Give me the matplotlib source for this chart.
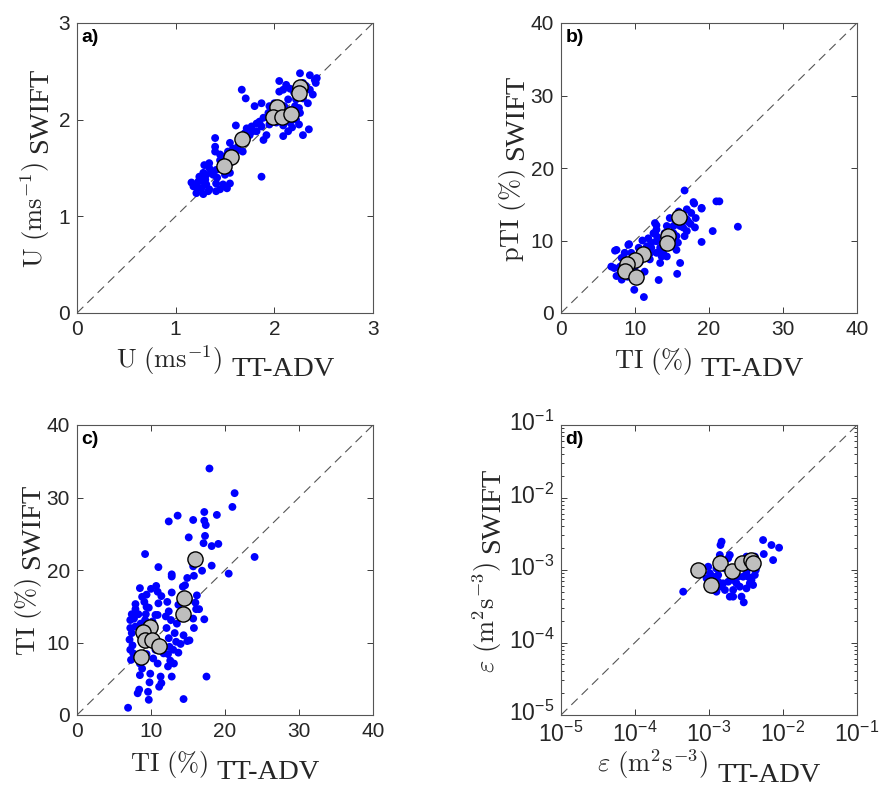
import numpy as np
import matplotlib
matplotlib.use("Agg")
import matplotlib.pyplot as plt
import matplotlib.transforms as mtransforms
from matplotlib.ticker import FixedLocator, FixedFormatter, LogLocator, NullFormatter

plt.rcParams['font.family'] = ['Liberation Sans', 'DejaVu Sans']
plt.rcParams['mathtext.fontset'] = 'cm'

# ---------------- data ----------------
# panel a : U (m/s)
a_x = [2.26, 2.36, 2.41, 2.42, 2.05, 2.12, 2.09, 2.16, 2.36, 2.39, 2.29, 2.34, 2.22, 2.14, 2.05, 2.00,
       1.95, 2.10, 1.67, 1.71, 1.80, 1.87, 1.94, 1.89, 1.82, 1.77, 1.72, 1.61, 1.82, 1.87, 1.95, 2.02,
       2.09, 2.16, 2.22, 2.26, 2.14, 2.09, 2.29, 2.35, 1.92, 1.89, 1.75, 1.70, 1.63, 1.55, 1.53, 1.40,
       1.40, 1.40, 1.45, 1.61, 1.68, 1.55, 1.34, 1.29, 1.34, 1.41, 1.28, 1.24, 1.31, 1.38, 1.50, 1.55,
       1.87, 1.23, 1.16, 1.28, 1.31, 1.41, 1.48, 1.55, 1.18, 1.26, 1.34, 1.45, 1.52, 1.21, 1.28, 1.41,
       1.33, 1.46, 1.95, 1.99, 2.16, 2.21, 2.29, 2.43, 2.20, 2.32, 2.25, 2.05, 1.98, 1.85, 1.78, 1.65,
       1.58, 1.50, 1.45, 1.36, 1.30, 1.22, 1.42, 1.60, 1.72, 2.12, 2.18, 2.25]
a_y = [2.48, 2.46, 2.41, 2.38, 2.40, 2.36, 2.31, 2.32, 2.31, 2.26, 2.22, 2.17, 2.21, 2.21, 2.29, 2.17,
       2.14, 2.14, 2.31, 2.22, 2.14, 2.17, 2.07, 2.02, 1.96, 1.93, 1.91, 1.94, 1.88, 1.93, 1.95, 1.97,
       1.94, 1.97, 2.00, 2.07, 1.88, 1.83, 1.84, 1.90, 1.84, 1.79, 1.84, 1.86, 1.72, 1.76, 1.67, 1.81,
       1.72, 1.67, 1.64, 1.66, 1.67, 1.55, 1.55, 1.53, 1.50, 1.48, 1.45, 1.41, 1.43, 1.43, 1.43, 1.45,
       1.41, 1.36, 1.35, 1.36, 1.33, 1.34, 1.33, 1.34, 1.31, 1.29, 1.28, 1.28, 1.29, 1.24, 1.23, 1.26,
       1.26, 1.52, 2.03, 2.10, 2.10, 2.14, 2.38, 2.43, 2.28, 2.35, 2.12, 2.05, 1.98, 1.98, 1.88, 1.78,
       1.70, 1.62, 1.58, 1.45, 1.38, 1.30, 1.40, 1.60, 1.80, 2.02, 1.92, 1.95]
a_mx = [2.26, 2.25, 2.03, 1.99, 2.08, 2.17, 1.67, 1.56, 1.49]
a_my = [2.34, 2.28, 2.13, 2.03, 2.03, 2.06, 1.80, 1.61, 1.52]

# panel b : TI (%) vs pTI (%)
b_x = [16.7, 17.9, 19.0, 21.0, 21.4, 23.9, 20.5, 19.0, 17.0, 17.6, 18.2, 17.2, 18.1, 17.0, 16.7, 16.1,
       15.2, 14.7, 14.3, 15.6, 15.8, 15.6, 16.1, 15.7, 13.2, 11.2, 9.9, 7.5, 9.1, 6.8, 7.5, 8.2,
       12.7, 11.8, 12.5, 12.9, 13.4, 13.8, 14.3, 13.4, 12.9, 12.2, 11.6, 11.6, 12.0, 10.7, 10.7, 10.0,
       9.5, 8.6, 8.2, 8.0, 9.5, 11.3, 15.2, 14.0, 14.3, 15.4, 16.2, 17.0, 12.9, 12.2, 13.6, 15.2,
       8.9, 8.6, 7.3, 9.2, 12.9, 12.7, 18.0, 19.0, 10.5, 11.0, 12.0, 9.0, 10.5, 8.0, 7.2, 13.0,
       14.8, 16.5, 17.5, 15.9]
b_y = [16.9, 15.3, 14.5, 15.4, 15.4, 11.9, 11.3, 9.8, 14.3, 13.8, 13.1, 12.6, 11.8, 11.3, 10.6, 12.0,
       12.0, 13.1, 12.0, 10.6, 9.7, 8.7, 6.9, 5.4, 4.55, 2.2, 3.2, 8.7, 9.4, 6.4, 5.1, 4.6,
       12.4, 10.3, 11.0, 9.9, 9.0, 8.3, 7.8, 6.9, 8.3, 9.0, 9.2, 7.8, 7.4, 8.7, 7.1, 6.4,
       8.3, 8.3, 7.6, 6.4, 5.5, 5.7, 11.0, 11.0, 10.1, 12.9, 13.3, 12.9, 11.5, 9.7, 7.8, 9.2,
       6.4, 7.4, 8.6, 9.5, 12.1, 11.0, 15.1, 14.4, 9.0, 10.0, 8.2, 5.0, 5.2, 5.5, 6.2, 10.5,
       9.5, 11.8, 12.3, 14.0]
b_mx = [16.0, 14.5, 14.3, 11.1, 10.0, 8.9, 8.7, 10.2]
b_my = [13.3, 10.6, 9.6, 8.1, 7.3, 6.8, 5.8, 5.0]

# panel c : TI (%) vs TI (%)
c_x = [17.9, 21.3, 21.0, 12.4, 13.6, 15.7, 17.2, 17.2, 17.4, 18.9, 15.1, 17.3, 17.1, 18.2, 19.1, 9.2,
       24.0, 11.0, 12.8, 12.8, 15.7, 15.8, 16.9, 18.2, 20.5, 14.9, 14.3, 14.6, 8.5, 10.0, 10.7, 10.9,
       11.4, 12.8, 12.2, 9.4, 9.1, 7.9, 7.9, 7.4, 8.3, 9.3, 9.7, 10.9, 12.4, 12.7, 13.7, 15.1,
       16.2, 16.0, 16.1, 16.5, 17.2, 15.7, 15.8, 12.1, 13.2, 14.4, 15.2, 14.9, 14.0, 13.4, 12.5, 13.0,
       13.7, 12.3, 12.6, 13.1, 12.3, 12.8, 11.3, 11.1, 11.4, 9.8, 9.6, 8.4, 8.2, 9.7, 14.4, 6.9,
       17.5, 7.2, 7.2, 7.4, 7.1, 7.5, 7.2, 7.6, 7.3, 8.5, 8.8, 8.5, 9.9, 9.4, 10.3, 10.9,
       10.6, 11.7, 12.4, 9.2, 10.2, 10.6, 8.6, 7.9, 7.7, 8.8, 9.4, 11.0, 12.0, 13.5]
c_y = [34.0, 30.6, 28.7, 26.7, 27.5, 26.9, 28.0, 26.8, 26.2, 27.6, 24.5, 24.7, 23.7, 23.3, 23.6, 22.2,
       21.8, 20.4, 19.4, 19.1, 20.5, 19.2, 19.9, 20.6, 19.5, 18.9, 17.7, 17.9, 17.5, 17.4, 17.8, 17.0,
       16.4, 16.9, 15.6, 16.6, 15.6, 15.3, 14.6, 13.9, 13.9, 13.9, 14.8, 13.8, 14.3, 13.1, 15.2, 16.0,
       16.5, 15.5, 14.6, 14.6, 13.2, 13.3, 12.0, 12.0, 11.3, 11.0, 10.3, 10.2, 9.8, 10.1, 9.4, 9.0,
       8.6, 8.4, 7.5, 7.1, 6.7, 5.3, 5.3, 3.9, 4.4, 4.5, 3.2, 3.5, 3.0, 2.1, 2.2, 1.0,
       5.3, 13.1, 12.0, 11.3, 10.4, 9.6, 9.0, 8.5, 7.6, 7.1, 6.4, 5.5, 5.7, 8.4, 7.8, 7.1,
       9.0, 8.5, 10.6, 13.1, 12.9, 13.8, 12.6, 12.2, 13.3, 16.3, 14.9, 15.4, 13.6, 12.6]
c_mx = [16.0, 14.5, 14.3, 9.9, 8.9, 9.2, 10.2, 11.1, 8.7]
c_my = [21.5, 16.1, 14.0, 12.2, 11.5, 10.3, 10.3, 9.5, 7.95]

# panel d : epsilon (m^2 s^-3)
d_x = [4.48e-4, 1.48e-3, 1.43e-3, 5.38e-3, 6.98e-3, 8.85e-3, 5.50e-3, 7.35e-3, 9.75e-4, 1.33e-3,
       1.33e-3, 1.14e-3, 1.26e-3, 1.40e-3, 1.64e-3, 1.91e-3, 2.12e-3, 2.35e-3, 2.61e-3, 2.75e-3,
       2.95e-3, 3.21e-3, 3.56e-3, 3.37e-3, 4.16e-3, 4.29e-3, 3.21e-3, 2.89e-3, 2.48e-3, 2.12e-3,
       1.82e-3, 1.55e-3, 1.91e-3, 1.82e-3, 1.40e-3, 3.21e-3, 4.16e-3, 2.23e-3, 3.75e-3, 3.94e-3,
       1.26e-3, 1.64e-3, 1.14e-3, 9.27e-4, 1.03e-3, 2.12e-3]
d_y = [5.02e-4, 2.46e-3, 2.21e-3, 2.59e-3, 2.21e-3, 2.03e-3, 1.66e-3, 1.37e-3, 1.11e-3, 8.53e-4,
       6.90e-4, 5.30e-4, 5.02e-4, 5.89e-4, 5.30e-4, 4.29e-4, 5.30e-4, 6.55e-4, 5.89e-4, 4.29e-4,
       3.58e-4, 5.58e-4, 6.55e-4, 8.09e-4, 8.53e-4, 1.00e-3, 9.48e-4, 8.09e-4, 8.09e-4, 7.28e-4,
       6.90e-4, 6.55e-4, 1.61e-3, 1.45e-3, 1.61e-3, 1.53e-3, 1.53e-3, 8.99e-4, 7.28e-4, 6.21e-4,
       1.05e-3, 1.05e-3, 8.09e-4, 7.67e-4, 8.99e-4, 4.29e-4]
d_mx = [7.1e-4, 1.4e-3, 1.05e-3, 2.07e-3, 2.75e-3, 3.75e-3, 3.9e-3]
d_my = [1.0e-3, 1.26e-3, 6.2e-4, 9.8e-4, 1.24e-3, 1.37e-3, 1.24e-3]

lin3_ticks = [0, 1, 2, 3]
lin40_ticks = [0, 10, 20, 30, 40]
log_ticks = [1e-5, 1e-4, 1e-3, 1e-2, 1e-1]
log_labels = [r'$\mathregular{10^{-5}}$', r'$\mathregular{10^{-4}}$', r'$\mathregular{10^{-3}}$',
              r'$\mathregular{10^{-2}}$', r'$\mathregular{10^{-1}}$']

# ---------------- figure ----------------
W, H = 882, 789
fig = plt.figure(figsize=(W / 100, H / 100), dpi=100)

def rect(l, t, r, b):
    return [l / W, 1 - b / H, (r - l) / W, (b - t) / H]

AX_COL = '#3a3a3a'
panels = [
    dict(r=rect(77, 23, 373, 313), x=a_x, y=a_y, mx=a_mx, my=a_my, lim=(0, 3), ticks=lin3_ticks, log=False, lab='a)'),
    dict(r=rect(561, 23, 857, 313), x=b_x, y=b_y, mx=b_mx, my=b_my, lim=(0, 40), ticks=lin40_ticks, log=False, lab='b)'),
    dict(r=rect(77, 425, 373, 715), x=c_x, y=c_y, mx=c_mx, my=c_my, lim=(0, 40), ticks=lin40_ticks, log=False, lab='c)'),
    dict(r=rect(561, 425, 857, 715), x=d_x, y=d_y, mx=d_mx, my=d_my, lim=(1e-5, 1e-1), ticks=log_ticks, log=True, lab='d)'),
]

for p in panels:
    ax = fig.add_axes(p['r'])
    lo, hi = p['lim']
    ax.plot([lo, hi], [lo, hi], color='#555555', lw=0.8, dashes=(8, 5), zorder=1)
    ax.scatter(p['x'], p['y'], s=32, c='#0000ff', edgecolors='none', zorder=2)
    ax.scatter(p['mx'], p['my'], s=120, c='#bebebe', edgecolors='black', linewidths=1.0, zorder=3)
    lsize = 15
    if p['log']:
        ax.set_xscale('log')
        ax.set_yscale('log')
        for axis in (ax.xaxis, ax.yaxis):
            axis.set_major_locator(FixedLocator(p['ticks']))
            axis.set_major_formatter(FixedFormatter(log_labels))
            axis.set_minor_locator(LogLocator(base=10, subs=np.arange(2, 10)))
            axis.set_minor_formatter(NullFormatter())
        lsize = 16.5
    else:
        ax.set_xticks(p['ticks'])
        ax.set_yticks(p['ticks'])
    ax.set_xlim(lo, hi)
    ax.set_ylim(lo, hi)
    ax.tick_params(which='both', direction='in', top=True, right=True, colors=AX_COL,
                   labelcolor='#262626', labelsize=lsize, width=0.7)
    ax.tick_params(which='major', length=4, pad=5)
    ax.tick_params(which='minor', length=2)
    if p['log']:
        shift = mtransforms.ScaledTranslation(0, 4 / 100, fig.dpi_scale_trans)
        for lab in ax.get_yticklabels():
            lab.set_transform(lab.get_transform() + shift)
    for s in ax.spines.values():
        s.set_color('#555555')
        s.set_linewidth(0.8)
    ax.text(0.015, 0.978, p['lab'], transform=ax.transAxes, fontsize=14, fontweight='bold',
            ha='left', va='top')

# ---------------- axis labels (math part + suffix) ----------------
MS = 19
SS = 20.5
labels_x = [
    (r'$\mathrm{U\ (ms^{-1})}$', 225, 368, 376),
    (r'$\mathrm{TI\ (\%)}$', 709, 368, 376),
    (r'$\mathrm{TI\ (\%)}$', 225, 771, 779),
    (r'$\varepsilon\ (\mathrm{m^2s^{-3}})$', 709, 772, 782),
]
labels_y = [
    (r'$\mathrm{U\ (ms^{-1})}$', 168, 43, 47),
    (r'$\mathrm{pTI\ (\%)}$', 168, 519, 523),
    (r'$\mathrm{TI\ (\%)}$', 570, 35, 39),
    (r'$\varepsilon\ (\mathrm{m^2s^{-3}})$', 570, 495, 499),
]

created = []
for m, cx, b1, b2 in labels_x:
    t1 = fig.text(0, 0, m, fontsize=MS, ha='left', va='baseline', rotation_mode='anchor', color='#262626')
    t2 = fig.text(0, 0, 'TT-ADV', fontsize=SS, family=['Liberation Serif', 'DejaVu Serif'],
                  ha='left', va='baseline', rotation_mode='anchor', color='#262626')
    created.append(('x', t1, t2, cx, b1, b2))
for m, cy, b1, b2 in labels_y:
    t1 = fig.text(0, 0, m, fontsize=MS, ha='left', va='baseline', rotation=90, rotation_mode='anchor', color='#262626')
    t2 = fig.text(0, 0, 'SWIFT', fontsize=SS, family=['Liberation Serif', 'DejaVu Serif'],
                  ha='left', va='baseline', rotation=90, rotation_mode='anchor', color='#262626')
    created.append(('y', t1, t2, cy, b1, b2))

fig.canvas.draw()
r = fig.canvas.get_renderer()
GAP = 9
for kind, t1, t2, c, b1, b2 in created:
    e1 = t1.get_window_extent(r)
    e2 = t2.get_window_extent(r)
    if kind == 'x':
        w1, w2 = e1.width, e2.width
        left = c - (w1 + GAP + w2) / 2
        t1.set_position((left / W, 1 - b1 / H))
        t2.set_position(((left + w1 + GAP) / W, 1 - b2 / H))
    else:
        w1, w2 = e1.height, e2.height
        bottom = c + (w1 + GAP + w2) / 2
        t1.set_position((b1 / W, 1 - bottom / H))
        t2.set_position((b2 / W, 1 - (bottom - w1 - GAP) / H))

fig.savefig('out.png', dpi=100)
